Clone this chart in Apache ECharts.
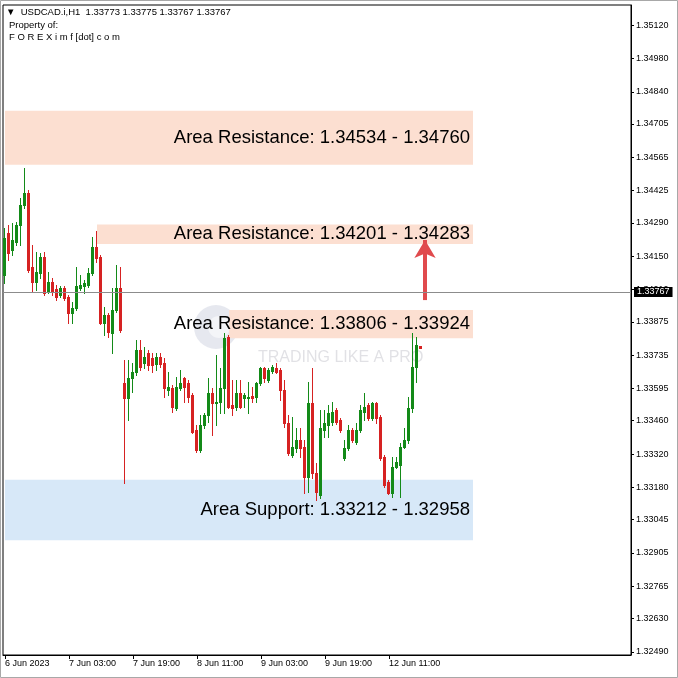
<!DOCTYPE html>
<html><head><meta charset="utf-8">
<script src="https://cdn.jsdelivr.net/npm/echarts@6/dist/echarts.min.js"></script>
<style>html,body{margin:0;padding:0;background:#fff}#c{width:678px;height:678px}</style>
</head><body><div id="c"></div>
<script>
// ---- data (USDCAD.i H1, from 6 Jun 2023 11:00) ----
const openP = [1.34071,1.34247,1.34176,1.34210,1.34281,1.34365,1.34415,1.34105,1.34042,1.34080,
1.34147,1.34000,1.34042,1.34013,1.33987,1.34017,1.33979,1.33912,1.33933,1.34017,
1.34025,1.34029,1.34080,1.34189,1.34147,1.33870,1.33903,1.33828,1.33924,1.34017,
1.33618,1.33555,1.33639,1.33664,1.33757,1.33702,1.33744,1.33723,1.33698,1.33727,
1.33702,1.33589,1.33597,1.33513,1.33597,1.33639,1.33618,1.33568,1.33421,1.33337,
1.33442,1.33484,1.33576,1.33534,1.33538,1.33597,1.33811,1.33526,1.33518,1.33576,
1.33555,1.33555,1.33564,1.33559,1.33618,1.33681,1.33631,1.33669,1.33681,1.33673,
1.33589,1.33450,1.33316,1.33346,1.33379,1.33350,1.33224,1.33534,1.33241,1.33148,
1.33421,1.33442,1.33455,1.33505,1.33463,1.33304,1.33346,1.33421,1.33371,1.33421,
1.33497,1.33526,1.33471,1.33534,1.33476,1.33308,1.33203,1.33157,1.33266,1.33274,
1.33350,1.33379,1.33513,1.33685,1.33773];
const highP = [1.34268,1.34281,1.34289,1.34294,1.34394,1.34520,1.34428,1.34197,1.34168,1.34164,
1.34168,1.34084,1.34059,1.34029,1.34025,1.34025,1.33987,1.33958,1.34105,1.34071,
1.34050,1.34101,1.34231,1.34256,1.34155,1.33937,1.33912,1.34017,1.34113,1.34105,
1.33715,1.33715,1.33702,1.33799,1.33799,1.33769,1.33757,1.33744,1.33744,1.33744,
1.33723,1.33664,1.33610,1.33643,1.33673,1.33643,1.33631,1.33576,1.33442,1.33484,
1.33492,1.33639,1.33597,1.33736,1.33681,1.33828,1.33820,1.33631,1.33631,1.33631,
1.33576,1.33622,1.33601,1.33622,1.33685,1.33685,1.33681,1.33694,1.33702,1.33681,
1.33631,1.33484,1.33476,1.33429,1.33429,1.33379,1.33622,1.33681,1.33283,1.33505,
1.33505,1.33526,1.33538,1.33513,1.33471,1.33379,1.33442,1.33429,1.33450,1.33526,
1.33576,1.33534,1.33538,1.33538,1.33484,1.33316,1.33211,1.33308,1.33308,1.33367,
1.33429,1.33559,1.33828,1.33811,1.33775];
const lowP = [1.34038,1.34134,1.34155,1.34197,1.34197,1.34352,1.34084,1.34000,1.34008,1.34059,
1.33987,1.33996,1.33987,1.33966,1.33979,1.33966,1.33870,1.33870,1.33924,1.34008,
1.33996,1.34021,1.34071,1.34126,1.33866,1.33820,1.33811,1.33744,1.33916,1.33832,
1.33199,1.33463,1.33580,1.33652,1.33673,1.33681,1.33673,1.33664,1.33673,1.33685,
1.33559,1.33568,1.33497,1.33505,1.33589,1.33538,1.33538,1.33408,1.33329,1.33329,
1.33429,1.33455,1.33400,1.33442,1.33492,1.33492,1.33513,1.33484,1.33505,1.33513,
1.33518,1.33492,1.33538,1.33538,1.33610,1.33622,1.33622,1.33660,1.33660,1.33547,
1.33434,1.33316,1.33308,1.33329,1.33308,1.33157,1.33161,1.33220,1.33128,1.33136,
1.33392,1.33392,1.33442,1.33446,1.33413,1.33295,1.33337,1.33371,1.33362,1.33413,
1.33463,1.33463,1.33463,1.33450,1.33295,1.33182,1.33153,1.33140,1.33262,1.33140,
1.33346,1.33367,1.33497,1.33622,1.33767];
const closeP = [1.34226,1.34164,1.34218,1.34281,1.34365,1.34415,1.34092,1.34042,1.34084,1.34147,
1.33996,1.34042,1.34000,1.33979,1.34017,1.33975,1.33912,1.33933,1.34025,1.34029,
1.34038,1.34080,1.34189,1.34143,1.33870,1.33903,1.33832,1.33924,1.34017,1.33841,
1.33555,1.33639,1.33664,1.33757,1.33685,1.33727,1.33694,1.33694,1.33727,1.33698,
1.33597,1.33601,1.33518,1.33601,1.33618,1.33601,1.33559,1.33413,1.33337,1.33442,
1.33484,1.33576,1.33534,1.33538,1.33597,1.33807,1.33518,1.33513,1.33576,1.33518,
1.33568,1.33559,1.33555,1.33618,1.33681,1.33639,1.33673,1.33685,1.33664,1.33589,
1.33450,1.33325,1.33350,1.33379,1.33346,1.33224,1.33534,1.33241,1.33161,1.33429,
1.33450,1.33492,1.33497,1.33455,1.33421,1.33346,1.33421,1.33379,1.33421,1.33505,
1.33518,1.33471,1.33534,1.33471,1.33304,1.33190,1.33157,1.33266,1.33287,1.33350,
1.33379,1.33513,1.33685,1.33778,1.33767];

const yTickValues = [1.35120,1.34980,1.34840,1.34705,1.34565,1.34425,1.34290,1.34150,1.34010,1.33875,
1.33735,1.33595,1.33460,1.33320,1.33180,1.33045,1.32905,1.32765,1.32630,1.32490];
const xTickCats = ['6 Jun 11:00','7 Jun 03:00','7 Jun 19:00','8 Jun 11:00','9 Jun 03:00','9 Jun 19:00','12 Jun 11:00'];
const xTickLabels = ['6 Jun 2023','7 Jun 03:00','7 Jun 19:00','8 Jun 11:00','9 Jun 03:00','9 Jun 19:00','12 Jun 11:00'];

const zones = [
  {name:'Area Resistance', lo:1.34534, hi:1.34760, startBar:0,  kind:'res'},
  {name:'Area Resistance', lo:1.34201, hi:1.34283, startBar:23, kind:'res'},
  {name:'Area Resistance', lo:1.33806, hi:1.33924, startBar:56, kind:'res'},
  {name:'Area Support',    lo:1.32958, hi:1.33212, startBar:0,  kind:'sup'}
];
const headerQuote = ['1.33773','1.33775','1.33767','1.33767'];
const arrowFrom = 1.33966, arrowTo = 1.34218;

// ---- categories: hourly bars, weekend skipped ----
const nBars = openP.length;
const cats = [];
{
  let t = Date.UTC(2023,5,6,11);
  while (cats.length < nBars) {
    const d = new Date(t), wd = d.getUTCDay();
    if (wd !== 0 && wd !== 6) cats.push(d.getUTCDate()+' Jun '+String(d.getUTCHours()).padStart(2,'0')+':00');
    t += 3600000;
  }
}
const TOTAL_SLOTS = 157;
const allCats = cats.slice();
for (let i = 0; allCats.length < TOTAL_SLOTS; i++) allCats.push('pad' + i);
const tickMap = {};
xTickCats.forEach((c,i)=>{ tickMap[c] = xTickLabels[i]; });

const ohlc = openP.map((o,i)=>[i, o, closeP[i], lowP[i], highP[i]]);
const lastClose = closeP[nBars-1];
const zoneEnd = allCats[117];
const UP = '#138a18', DOWN = '#d62222';

function renderCandle(params, api) {
  const i = api.value(0), o = api.value(1), c = api.value(2), l = api.value(3), h = api.value(4);
  const pO = api.coord([i, o]), pC = api.coord([i, c]), pL = api.coord([i, l]), pH = api.coord([i, h]);
  const cx = Math.round(pO[0]) - 1;
  const col = c >= o ? UP : DOWN;
  const yH = Math.round(pH[1]), yL = Math.round(pL[1]);
  const yT = Math.round(Math.min(pO[1], pC[1])), yB = Math.round(Math.max(pO[1], pC[1]));
  return {type:'group', children:[
    {type:'rect', shape:{x:cx, y:yH, width:1, height:Math.max(1, yL - yH + 1)}, style:{fill:col}},
    {type:'rect', shape:{x:cx - 1, y:yT, width:3, height:Math.max(1, yB - yT + 1)}, style:{fill:col}}
  ]};
}

const FONT = '"Liberation Sans", Arial, sans-serif';
const chart = echarts.init(document.getElementById('c'));
chart.setOption({
  animation:false,
  backgroundColor:'#ffffff',
  grid:{left:3, right:47, top:5, bottom:23, show:true, borderColor:'#000', borderWidth:1, backgroundColor:'transparent'},
  xAxis:{
    type:'category', data:allCats, boundaryGap:true,
    axisLine:{show:true, lineStyle:{color:'#000', width:1}},
    axisTick:{show:true, alignWithLabel:true, length:4, lineStyle:{color:'#000'},
      interval:(idx,val)=>tickMap[val]!==undefined},
    axisLabel:{show:true, interval:(idx,val)=>tickMap[val]!==undefined,
      formatter:(val)=>tickMap[val]||'', align:'left', color:'#000', fontSize:9, fontFamily:FONT, margin:4},
    splitLine:{show:false}
  },
  yAxis:{
    type:'value', position:'right', min:1.32477, max:1.35204, scale:true,
    axisLine:{show:true, lineStyle:{color:'#000', width:1}},
    axisTick:{show:true, length:3, customValues:yTickValues, lineStyle:{color:'#000'}},
    axisLabel:{show:true, customValues:yTickValues, formatter:(v)=>v.toFixed(5), color:'#000', fontSize:9, fontFamily:FONT, margin:5},
    splitLine:{show:false}
  },
  graphic:[
    {type:'rect', z:20, silent:true, shape:{x:0.5, y:0.5, width:677, height:677}, style:{fill:'none', stroke:'#a8a8a8', lineWidth:1}},
    {type:'group', z:2, silent:true, children:[
      {type:'circle', shape:{cx:216, cy:327, r:22}, style:{fill:'rgba(140,150,180,0.22)'}},
      {type:'circle', shape:{cx:219, cy:327, r:11}, style:{fill:'rgba(255,255,255,0.55)'}},
      {type:'text', left:240, top:309, style:{text:'FOREX', font:'bold 30px '+FONT, fill:'rgba(110,115,135,0.22)'}},
      {type:'text', left:342, top:309, style:{text:'imf', font:'bold 30px '+FONT, fill:'rgba(70,160,230,0.28)'}},
      {type:'text', left:258, top:350, style:{text:'TRADING LIKE A PRO', font:'16px '+FONT, fill:'rgba(120,120,135,0.22)'}}
    ]},
    {type:'group', z:10, silent:true, children:[
      {type:'text', left:6, top:7, style:{text:'\u25BC  USDCAD.i,H1  ' + headerQuote.join(' '), font:'9.5px '+FONT, fill:'#000'}},
      {type:'text', left:9, top:20, style:{text:'Property of:', font:'9.5px '+FONT, fill:'#000'}},
      {type:'text', left:9, top:32, style:{text:'F O R E X i m f [dot] c o m', font:'9.5px '+FONT, fill:'#000'}}
    ]}
  ],
  series:[
    {
      type:'line', data:[], z:1, silent:true,
      markArea:{
        silent:true,
        data: zones.map(zn=>[
          {xAxis: allCats[zn.startBar], yAxis: zn.hi,
           itemStyle:{color: zn.kind==='res' ? '#fcdfd1' : '#d7e8f8'},
           label:{show:true, position:'insideRight', distance:3,
             formatter: zn.name + ': ' + (zn.kind==='res' ? zn.lo.toFixed(5)+' - '+zn.hi.toFixed(5) : zn.hi.toFixed(5)+' - '+zn.lo.toFixed(5)),
             color:'#000', fontSize:18.5, fontFamily:FONT}},
          {xAxis: zoneEnd, yAxis: zn.lo}
        ])
      },
      markLine:{
        silent:true, symbol:['none','arrow'], symbolSize:[16,18],
        lineStyle:{color:'#e04a4d', width:4, type:'solid'},
        label:{show:false},
        data:[[
          {coord:[allCats[105], arrowFrom]},
          {coord:[allCats[105], arrowTo]}
        ]]
      }
    },
    {
      type:'custom', data:ohlc, z:3, silent:true,
      encode:{x:0, y:[1,2,3,4]},
      renderItem: renderCandle,
      markLine:{
        silent:true, symbol:'none',
        lineStyle:{color:'#8c8c8c', width:1, type:'solid'},
        data:[
          {yAxis:lastClose,
           label:{show:true, position:'end', distance:3, formatter:lastClose.toFixed(5),
             backgroundColor:'#000', color:'#fff', padding:[1,3,0,3], fontSize:9, fontFamily:FONT}}
        ]
      }
    }
  ]
});
</script></body></html>
